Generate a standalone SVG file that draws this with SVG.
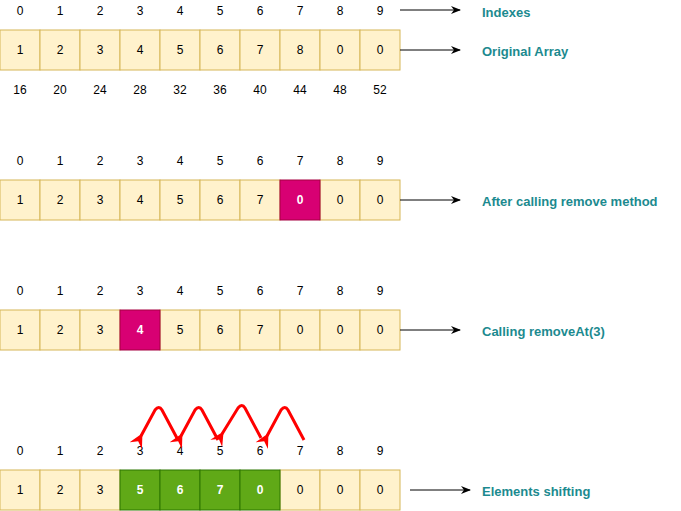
<svg xmlns="http://www.w3.org/2000/svg" width="681" height="511" viewBox="0 0 681 511">
<defs>
<marker id="ah" markerWidth="10" markerHeight="8" refX="9" refY="4" orient="auto" markerUnits="userSpaceOnUse"><path d="M0,0 L10,4 L0,8 L3,4 z" fill="#000"/></marker>
<marker id="rh" markerWidth="14" markerHeight="14" refX="3" refY="7" orient="auto" markerUnits="userSpaceOnUse"><path d="M14,0 L0,7 L14,14 L9,7 z" fill="#f00"/></marker>
<style>
.c{fill:#fff2cc;stroke:#d6b656}
.m{fill:#d80073;stroke:#a50040}
.g{fill:#60a917;stroke:#2d7600}
text{font-family:"Liberation Sans",Arial,sans-serif;font-size:12px;text-anchor:middle;dominant-baseline:central;fill:#000}
.w{fill:#fff;font-weight:bold}
.l{fill:#1c8a8f;font-weight:bold;text-anchor:start;font-size:13px}
.k{stroke:#000;stroke-width:1;fill:none;marker-end:url(#ah)}
.r{stroke:#f00;stroke-width:3;fill:none;marker-end:url(#rh)}
</style>
</defs>
<g id="row1">
<g class="c"><rect x="0" y="30" width="40" height="40"/><rect x="40" y="30" width="40" height="40"/><rect x="80" y="30" width="40" height="40"/><rect x="120" y="30" width="40" height="40"/><rect x="160" y="30" width="40" height="40"/><rect x="200" y="30" width="40" height="40"/><rect x="240" y="30" width="40" height="40"/><rect x="280" y="30" width="40" height="40"/><rect x="320" y="30" width="40" height="40"/><rect x="360" y="30" width="40" height="40"/></g>
<text x="20" y="50">1</text><text x="60" y="50">2</text><text x="100" y="50">3</text><text x="140" y="50">4</text><text x="180" y="50">5</text><text x="220" y="50">6</text><text x="260" y="50">7</text><text x="300" y="50">8</text><text x="340" y="50">0</text><text x="380" y="50">0</text>
<text x="20" y="11">0</text><text x="60" y="11">1</text><text x="100" y="11">2</text><text x="140" y="11">3</text><text x="180" y="11">4</text><text x="220" y="11">5</text><text x="260" y="11">6</text><text x="300" y="11">7</text><text x="340" y="11">8</text><text x="380" y="11">9</text>
<text x="20" y="90">16</text><text x="60" y="90">20</text><text x="100" y="90">24</text><text x="140" y="90">28</text><text x="180" y="90">32</text><text x="220" y="90">36</text><text x="260" y="90">40</text><text x="300" y="90">44</text><text x="340" y="90">48</text><text x="380" y="90">52</text>
</g>
<g id="row2">
<g class="c"><rect x="0" y="180" width="40" height="40"/><rect x="40" y="180" width="40" height="40"/><rect x="80" y="180" width="40" height="40"/><rect x="120" y="180" width="40" height="40"/><rect x="160" y="180" width="40" height="40"/><rect x="200" y="180" width="40" height="40"/><rect x="240" y="180" width="40" height="40"/><rect x="320" y="180" width="40" height="40"/><rect x="360" y="180" width="40" height="40"/></g>
<rect class="m" x="280" y="180" width="40" height="40"/>
<text x="20" y="200">1</text><text x="60" y="200">2</text><text x="100" y="200">3</text><text x="140" y="200">4</text><text x="180" y="200">5</text><text x="220" y="200">6</text><text x="260" y="200">7</text><text class="w" x="300" y="200">0</text><text x="340" y="200">0</text><text x="380" y="200">0</text>
<text x="20" y="161">0</text><text x="60" y="161">1</text><text x="100" y="161">2</text><text x="140" y="161">3</text><text x="180" y="161">4</text><text x="220" y="161">5</text><text x="260" y="161">6</text><text x="300" y="161">7</text><text x="340" y="161">8</text><text x="380" y="161">9</text>
</g>
<g id="row3">
<g class="c"><rect x="0" y="310" width="40" height="40"/><rect x="40" y="310" width="40" height="40"/><rect x="80" y="310" width="40" height="40"/><rect x="160" y="310" width="40" height="40"/><rect x="200" y="310" width="40" height="40"/><rect x="240" y="310" width="40" height="40"/><rect x="280" y="310" width="40" height="40"/><rect x="320" y="310" width="40" height="40"/><rect x="360" y="310" width="40" height="40"/></g>
<rect class="m" x="120" y="310" width="40" height="40"/>
<text x="20" y="330">1</text><text x="60" y="330">2</text><text x="100" y="330">3</text><text class="w" x="140" y="330">4</text><text x="180" y="330">5</text><text x="220" y="330">6</text><text x="260" y="330">7</text><text x="300" y="330">0</text><text x="340" y="330">0</text><text x="380" y="330">0</text>
<text x="20" y="291">0</text><text x="60" y="291">1</text><text x="100" y="291">2</text><text x="140" y="291">3</text><text x="180" y="291">4</text><text x="220" y="291">5</text><text x="260" y="291">6</text><text x="300" y="291">7</text><text x="340" y="291">8</text><text x="380" y="291">9</text>
</g>
<g id="row4">
<g class="c"><rect x="0" y="470" width="40" height="40"/><rect x="40" y="470" width="40" height="40"/><rect x="80" y="470" width="40" height="40"/><rect x="280" y="470" width="40" height="40"/><rect x="320" y="470" width="40" height="40"/><rect x="360" y="470" width="40" height="40"/></g>
<g class="g"><rect x="120" y="470" width="40" height="40"/><rect x="160" y="470" width="40" height="40"/><rect x="200" y="470" width="40" height="40"/><rect x="240" y="470" width="40" height="40"/></g>
<text x="20" y="490">1</text><text x="60" y="490">2</text><text x="100" y="490">3</text><text class="w" x="140" y="490">5</text><text class="w" x="180" y="490">6</text><text class="w" x="220" y="490">7</text><text class="w" x="260" y="490">0</text><text x="300" y="490">0</text><text x="340" y="490">0</text><text x="380" y="490">0</text>
<text x="20" y="451">0</text><text x="60" y="451">1</text><text x="100" y="451">2</text><text x="140" y="451">3</text><text x="180" y="451">4</text><text x="220" y="451">5</text><text x="260" y="451">6</text><text x="300" y="451">7</text><text x="340" y="451">8</text><text x="380" y="451">9</text>
</g>
<g id="labels">
<text class="l" x="482" y="12">Indexes</text>
<text class="l" x="482" y="51">Original Array</text>
<text class="l" x="482" y="201">After calling remove method</text>
<text class="l" x="482" y="331">Calling removeAt(3)</text>
<text class="l" x="482" y="491">Elements shifting</text>
</g>
<g id="connectors">
<path class="k" d="M400,10 H460"/>
<path class="k" d="M400,50 H460"/>
<path class="k" d="M400,200 H460"/>
<path class="k" d="M400,330 H460"/>
<path class="k" d="M410,490 H470"/>
<path class="r" d="M178,440 L162,410 Q159,405 155,410 L141,436"/>
<path class="r" d="M218,440 L202,410 Q199,405 195,410 L181,436"/>
<path class="r" d="M261,438 L245,408 Q242,403 238,408 L222,434"/>
<path class="r" d="M304,440 L288,410 Q285,405 281,410 L267,436"/>
</g>
</svg>
